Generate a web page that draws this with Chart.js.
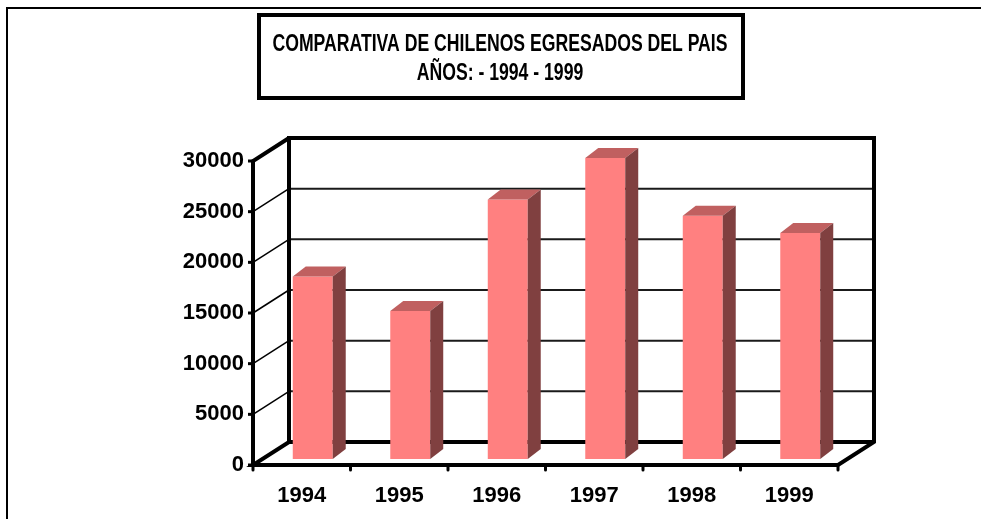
<!DOCTYPE html>
<html>
<head>
<meta charset="utf-8">
<title>Comparativa de chilenos egresados del pais</title>
<script src="https://cdn.jsdelivr.net/npm/chart.js@4.4.1/dist/chart.umd.min.js"></script>
<style>
  body { margin: 0; background: #fff; }
  #wrap { position: relative; width: 981px; height: 519px; }
</style>
</head>
<body>
<div id="wrap"><canvas id="canvas"></canvas></div>
<script>
// data
const years = ['1994', '1995', '1996', '1997', '1998', '1999'];
const egresados = [18000, 14600, 25600, 29700, 24000, 22300];
const yTicks = [0, 5000, 10000, 15000, 20000, 25000, 30000];
const titleLines = ['COMPARATIVA DE CHILENOS EGRESADOS DEL PAIS', 'AÑOS: - 1994 - 1999'];

const FONT = 'Arial, "Liberation Sans", sans-serif';
const WALL = { dx: 36, dy: -23 };      // depth of the 3d box
const SHIFT = { dx: 11, dy: -6 };      // bars sit a bit inside the box
const BAR = { dx: 13, dy: -10 };       // depth of each column

function line(ctx, x1, y1, x2, y2) {
  ctx.beginPath();
  ctx.moveTo(x1, y1);
  ctx.lineTo(x2, y2);
  ctx.stroke();
}

function poly(ctx, pts, fill) {
  ctx.beginPath();
  ctx.moveTo(pts[0][0], pts[0][1]);
  for (let i = 1; i < pts.length; i++) ctx.lineTo(pts[i][0], pts[i][1]);
  ctx.closePath();
  ctx.fillStyle = fill;
  ctx.fill();
}

// title text in the reference is a tall, narrow bold face
function narrowText(ctx, text, cx, cy, width) {
  const w = ctx.measureText(text).width;
  ctx.save();
  ctx.translate(cx, cy);
  ctx.scale(width / w, 1);
  ctx.fillText(text, 0, 0);
  ctx.restore();
}

const box3d = {
  id: 'box3d',
  beforeDatasetsDraw(chart) {
    const { ctx, chartArea: a, scales: { x, y } } = chart;
    const L = a.left, R = a.right, T = a.top, B = a.bottom;
    ctx.save();

    // outer chart frame (only left and top are visible)
    ctx.strokeStyle = '#000';
    ctx.lineWidth = 2;
    ctx.strokeRect(7, 8, chart.width, chart.height);

    // gridlines on back wall + side wall
    y.ticks.forEach(t => {
      const py = y.getPixelForValue(t.value);
      ctx.strokeStyle = '#1a1a1a';
      ctx.lineWidth = 2;
      line(ctx, L + WALL.dx, py + WALL.dy, R + WALL.dx, py + WALL.dy);
      ctx.strokeStyle = '#000';
      ctx.lineWidth = 1.5;
      line(ctx, L, py, L + WALL.dx, py + WALL.dy);
    });

    // thick edges of the box
    ctx.strokeStyle = '#000';
    ctx.lineWidth = 4;
    ctx.lineJoin = 'miter';
    ctx.beginPath();
    ctx.moveTo(L + WALL.dx, B + WALL.dy);
    ctx.lineTo(L + WALL.dx, T + WALL.dy);
    ctx.lineTo(R + WALL.dx, T + WALL.dy);
    ctx.lineTo(R + WALL.dx, B + WALL.dy);
    ctx.lineTo(R, B);
    ctx.lineTo(L, B);
    ctx.lineTo(L + WALL.dx, B + WALL.dy);
    ctx.lineTo(R + WALL.dx, B + WALL.dy);
    ctx.stroke();
    ctx.beginPath();
    ctx.moveTo(L, B);
    ctx.lineTo(L, T);
    ctx.lineTo(L + WALL.dx, T + WALL.dy);
    ctx.stroke();

    // tick marks
    ctx.lineWidth = 3;
    y.ticks.forEach(t => {
      const py = y.getPixelForValue(t.value);
      line(ctx, L - 5, py, L, py);
    });
    ctx.lineCap = 'round';
    for (let i = 0; i <= years.length; i++) {
      let px;
      if (i === 0) px = L;
      else if (i === years.length) px = R;
      else px = (x.getPixelForValue(i - 1) + x.getPixelForValue(i)) / 2;
      line(ctx, px, B, px, B + 5);
    }
    ctx.restore();

    // columns are drawn a little into the depth of the box
    ctx.save();
    ctx.translate(SHIFT.dx, SHIFT.dy);
  },
  afterDatasetsDraw(chart) {
    const { ctx } = chart;
    ctx.restore();
    const meta = chart.getDatasetMeta(0);
    meta.data.forEach(bar => {
      const p = bar.getProps(['x', 'y', 'base', 'width'], true);
      const l = p.x - p.width / 2 + SHIFT.dx;
      const r = p.x + p.width / 2 + SHIFT.dx;
      const t = p.y + SHIFT.dy;
      const b = p.base + SHIFT.dy;
      poly(ctx, [[l, t], [r, t], [r + BAR.dx, t + BAR.dy], [l + BAR.dx, t + BAR.dy]], '#c06060');
      poly(ctx, [[r, t], [r + BAR.dx, t + BAR.dy], [r + BAR.dx, b + BAR.dy], [r, b]], '#804040');
    });
  },
  afterDraw(chart) {
    const { ctx } = chart;
    ctx.save();
    ctx.strokeStyle = '#000';
    ctx.lineWidth = 4;
    ctx.strokeRect(259, 15, 484, 83);
    ctx.fillStyle = '#000';
    ctx.font = 'bold 23px ' + FONT;
    ctx.textAlign = 'center';
    ctx.textBaseline = 'middle';
    narrowText(ctx, titleLines[0], 500, 45, 455);
    narrowText(ctx, titleLines[1], 500, 74, 455 * ctx.measureText(titleLines[1]).width / ctx.measureText(titleLines[0]).width);
    ctx.restore();
  }
};

Chart.defaults.color = '#000';
Chart.defaults.font.family = FONT;

const ctx = document.getElementById('canvas').getContext('2d');
const chart = new Chart(ctx, {
  type: 'bar',
  data: {
    labels: years,
    datasets: [{
      label: 'egresados',
      data: egresados,
      backgroundColor: '#ff8080',
      borderWidth: 0,
      categoryPercentage: 0.41,
      barPercentage: 1,
      clip: false
    }]
  },
  options: {
    responsive: true,
    maintainAspectRatio: false,
    animation: false,
    layout: { padding: { top: 161, right: 143, left: 0, bottom: 0 } },
    plugins: {
      legend: { display: false },
      tooltip: { enabled: false }
    },
    scales: {
      x: {
        grid: { display: false, drawTicks: false },
        border: { display: false },
        ticks: { font: { size: 22, weight: 'bold' }, padding: 18, maxRotation: 0 },
        afterFit(scale) { scale.height = 54; }
      },
      y: {
        min: 0,
        max: 30000,
        grid: { display: false, drawTicks: false },
        border: { display: false },
        ticks: {
          font: { size: 22, weight: 'bold' },
          padding: 9,
          callback: v => String(v)
        },
        afterBuildTicks(scale) { scale.ticks = yTicks.map(v => ({ value: v })); },
        afterFit(scale) { scale.width = 253; }
      }
    }
  },
  plugins: [box3d]
});
</script>
</body>
</html>
